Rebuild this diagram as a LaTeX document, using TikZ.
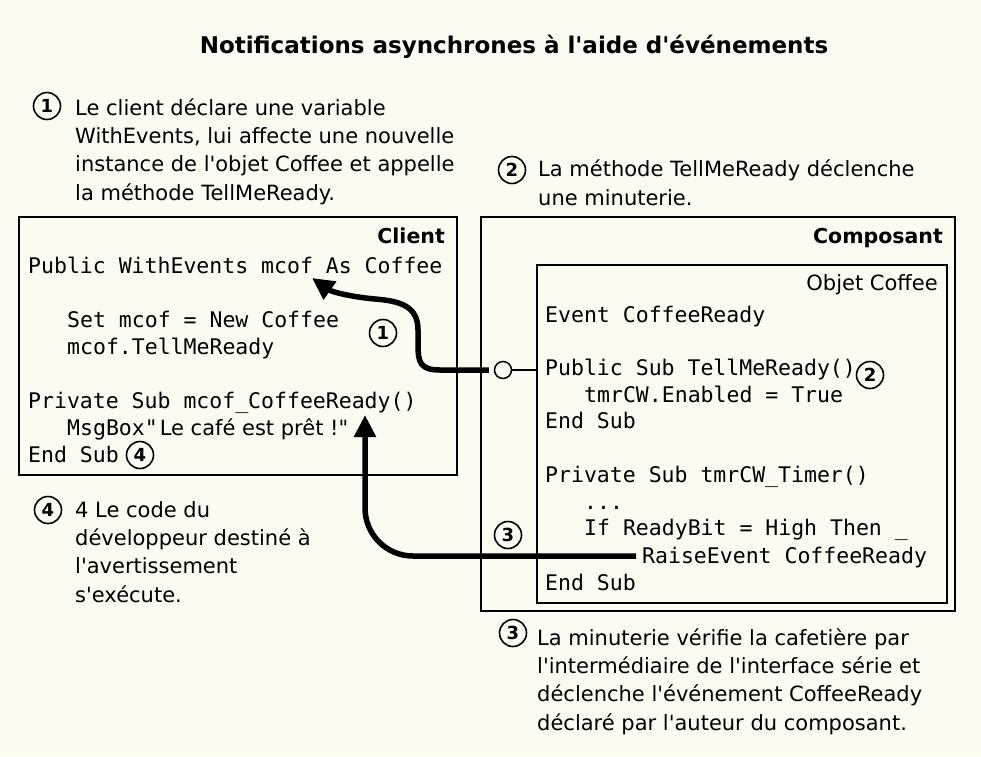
\documentclass[tikz,border=0pt]{standalone}
\usepackage{fontspec}
% plain family, so ' and " stay straight
\newfontfamily\notefont{DejaVu Sans}
\newfontfamily\codefont{DejaVu Sans Mono}
\usetikzlibrary{arrows.meta}
\definecolor{paper}{RGB}{252,251,241}
\tikzset{
  box/.style={draw=black, line width=2pt, inner sep=0pt},
  code/.style={anchor=base west, inner sep=0pt, font=\codefont\fontsize{21.5}{27}\selectfont},
  % multi-line notes: the base anchor sits on the last line
  para/.style={anchor=base west, inner sep=0pt, align=left, font=\notefont\fontsize{21}{28.3}\selectfont},
  label/.style={anchor=base east, inner sep=0pt, font=\notefont\bfseries\fontsize{20.5}{24}\selectfont},
  num/.style={circle, draw=black, line width=1.6pt, minimum size=27pt, inner sep=0pt,
              font=\notefont\bfseries\fontsize{18}{18}\selectfont},
  flow/.style={line width=5.5pt, -{Triangle[length=22pt,width=21pt]}},
}
\begin{document}
\begin{tikzpicture}[x=1pt, y=-1pt]
  % canvas
  \fill[paper] (0,0) rectangle (981,756);
  \useasboundingbox (0,0) rectangle (981,756);

  % heading
  \node[anchor=base, inner sep=0pt, font=\notefont\bfseries\fontsize{23}{28}\selectfont] (title) at (514,53)
    {Notifications asynchrones à l'aide d'événements};

  % explanatory notes
  \node[num] (n1) at (47,106) {1};
  \node[para] (t1) at (75,200) {Le client déclare une variable\\WithEvents, lui affecte une nouvelle\\instance de l'objet Coffee et appelle\\la méthode TellMeReady.};
  \node[num] (n2) at (512,170) {2};
  \node[para] (t2) at (538,205) {La méthode TellMeReady déclenche\\une minuterie.};
  \node[num] (n4) at (48,510) {4};
  \node[para] (t4) at (75,602) {4 Le code du\\développeur destiné à\\l'avertissement\\s'exécute.};
  \node[num] (n3) at (513,633) {3};
  \node[para] (t3) at (537,730) {La minuterie vérifie la cafetière par\\l'intermédiaire de l'interface série et\\déclenche l'événement CoffeeReady\\déclaré par l'auteur du composant.};

  % boxes
  \node[box, minimum width=438pt, minimum height=258pt] (client) at (238,346) {};
  \node[box, minimum width=474pt, minimum height=394pt] (composant) at (718,414) {};
  \node[box, minimum width=410pt, minimum height=338pt] (objet) at (742,434) {};
  \node[label] (clientlbl) at (445,243) {Client};
  \node[label] (complbl) at (943,243) {Composant};
  \node[anchor=base east, inner sep=0pt, font=\notefont\fontsize{21}{24}\selectfont] (objlbl) at (938,290) {Objet Coffee};

  % client code
  \node[code] (c1) at (28,273) {Public WithEvents mcof As Coffee};
  \node[code] (c2) at (67,327) {Set mcof = New Coffee};
  \node[code] (c3) at (67,354) {mcof.TellMeReady};
  \node[code] (c4) at (28,408) {Private Sub mcof\_CoffeeReady()};
  \node[code] (c5) at (67,435) {MsgBox"\kern2pt{\notefont\fontsize{21}{24}\selectfont Le café est prêt !"}};
  \node[code] (c6) at (28,462) {End Sub};

  % component code
  \node[code] (k1) at (545,322) {Event CoffeeReady};
  \node[code] (k2) at (545,375) {Public Sub TellMeReady()};
  \node[code] (k3) at (584,402) {tmrCW.Enabled = True};
  \node[code] (k4) at (545,428) {End Sub};
  \node[code] (k5) at (545,482) {Private Sub tmrCW\_Timer()};
  \node[code] (k6) at (584,509) {...};
  \node[code] (k7) at (584,535) {If ReadyBit = High Then \_};
  \node[code] (k8) at (642,563) {RaiseEvent CoffeeReady};
  \node[code] (k9) at (545,590) {End Sub};

  % step markers inside the boxes
  \node[num] (m1) at (383,333) {1};
  \node[num] (m2) at (870,375) {2};
  \node[num] (m3) at (508,535) {3};
  \node[num] (m4) at (140,455) {4};

  % interface lollipop
  \node[circle, draw=black, line width=1.5pt, minimum size=17pt, inner sep=0pt] (lolli) at (503,370) {};
  \draw[line width=1.5pt] (lolli.east) -- (lolli.east -| objet.west);

  % call and event flows
  \coordinate (tip1) at (312,278);
  \coordinate (raise) at (636,556);
  \coordinate (tip2) at (365,415);
  \draw[flow] ([xshift=-5pt]lolli.west) -- (440,370)
    .. controls (420,370) and (418,362) .. (418,345) -- (418,330)
    .. controls (418,306) and (400,301) .. (375,299)
    .. controls (352,297) and (332,292) .. (tip1);
  \draw[flow, rounded corners=48pt] (raise) -| (tip2);
\end{tikzpicture}
\end{document}
